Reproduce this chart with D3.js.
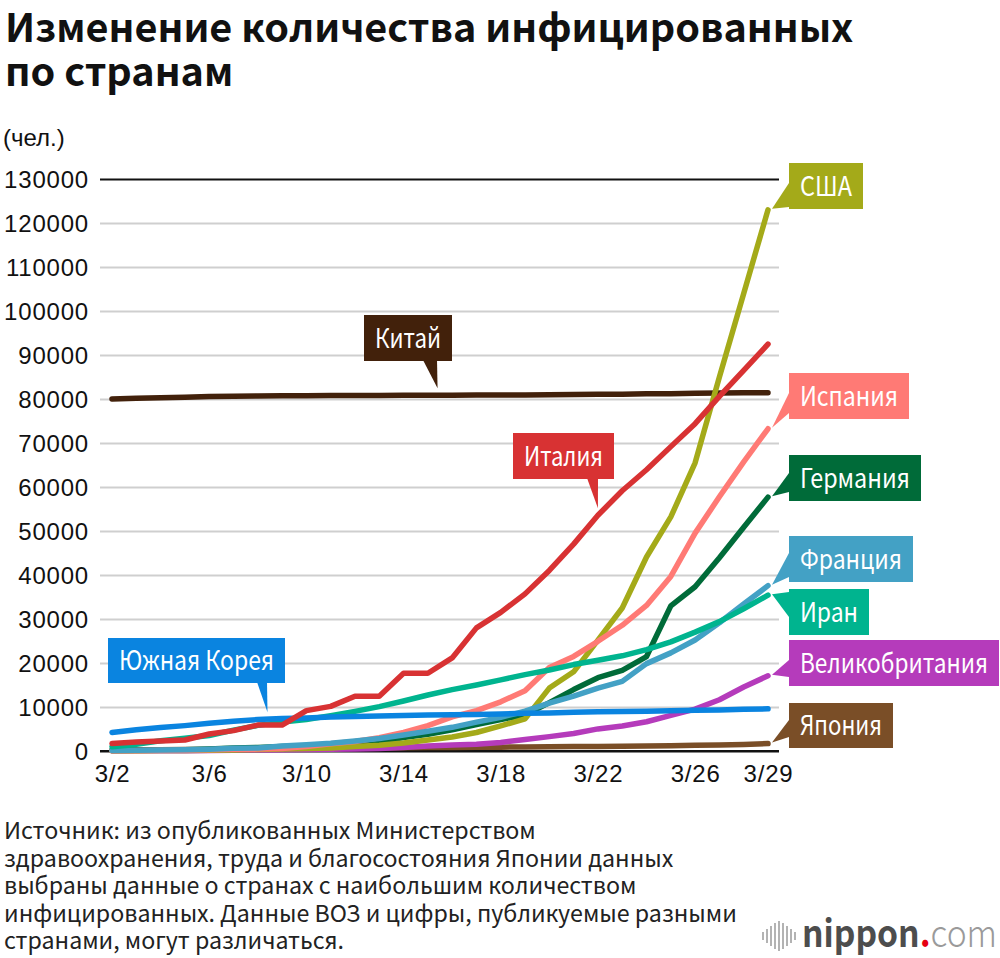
<!DOCTYPE html>
<html>
<head>
<meta charset="utf-8">
<script src="https://cdn.jsdelivr.net/npm/d3@7"></script>
<style>
body { margin: 0; background: #fff; }
svg { display: block; }
</style>
</head>
<body>
<div id="chart"></div>
<script>
var width = 1000
var height = 958

// dates 3/2 .. 3/29
var dates = d3.range(2, 30).map(function(d){ return "3/" + d })
var xTicks = ["3/2", "3/6", "3/10", "3/14", "3/18", "3/22", "3/26", "3/29"]
var yTicks = d3.range(0, 130001, 10000)

// infected, persons
var china   = [80026, 80151, 80270, 80409, 80552, 80651, 80695, 80735, 80754, 80778, 80793, 80813, 80824, 80844, 80860, 80881, 80894, 80928, 80967, 81008, 81054, 81093, 81171, 81218, 81285, 81340, 81394, 81439]
var italy   = [1689, 2036, 2263, 2502, 3858, 4636, 5883, 5883, 9172, 10149, 12462, 12462, 17660, 17660, 21157, 27980, 31506, 35713, 41035, 47021, 53578, 59138, 63927, 69176, 74386, 80589, 86498, 92472]
var usa     = [60, 80, 100, 120, 160, 220, 320, 430, 550, 700, 1000, 1300, 1800, 2500, 3200, 4200, 5700, 7300, 14300, 18000, 25200, 32500, 44100, 53200, 65500, 85000, 104000, 123000]
var spain   = [45, 114, 151, 198, 257, 374, 430, 589, 1024, 1639, 2140, 3004, 4231, 5753, 7753, 9191, 11178, 13716, 19000, 21500, 24926, 28572, 33089, 39673, 49515, 57786, 65719, 73235]
var germany = [129, 157, 196, 262, 482, 670, 799, 1040, 1176, 1457, 1908, 2078, 3062, 3795, 4838, 6012, 7156, 8198, 10999, 13957, 16662, 18323, 21463, 32986, 37323, 43938, 50871, 57695]
var france  = [130, 191, 212, 282, 420, 613, 706, 1116, 1402, 1774, 2269, 2860, 3640, 4469, 5380, 6573, 7652, 9043, 10871, 12475, 14296, 15821, 19856, 22302, 25233, 29155, 33402, 37575]
var iran    = [978, 1501, 2336, 2922, 3513, 4747, 5823, 6566, 7161, 8042, 9000, 10075, 11364, 12729, 13938, 14991, 16169, 17361, 18407, 19644, 20610, 21638, 23049, 24811, 27017, 29406, 32332, 35408]
var uk      = [36, 40, 51, 85, 115, 163, 206, 273, 321, 373, 456, 590, 798, 1140, 1372, 1543, 1950, 2626, 3269, 3983, 5018, 5683, 6650, 8077, 9529, 11658, 14543, 17089]
var korea   = [4212, 4812, 5328, 5766, 6284, 6767, 7134, 7382, 7513, 7755, 7869, 7979, 8086, 8162, 8236, 8320, 8413, 8565, 8652, 8799, 8897, 8961, 9037, 9137, 9241, 9332, 9478, 9583]
var japan   = [254, 268, 284, 317, 349, 408, 455, 488, 514, 568, 620, 675, 716, 780, 814, 829, 873, 914, 950, 1007, 1046, 1089, 1128, 1193, 1291, 1387, 1499, 1693]

// drawing order, bottom first
var series = [
    {name: "Китай", values: china, color: "#42210b"},
    {name: "Япония", values: japan, color: "#7a4e27"},
    {name: "Великобритания", values: uk, color: "#b53bbb"},
    {name: "Германия", values: germany, color: "#006b39"},
    {name: "США", values: usa, color: "#a4aa19"},
    {name: "Испания", values: spain, color: "#ff7a75"},
    {name: "Франция", values: france, color: "#43a1c5"},
    {name: "Иран", values: iran, color: "#00b48f"},
    {name: "Южная Корея", values: korea, color: "#0a84e0"},
    {name: "Италия", values: italy, color: "#d83233"}
]

// label boxes: right side ones point to the last value, the others to a date index
var labels = [
    {name: "США", box: [789, 163, 74, 46], base: [183, 207]},
    {name: "Испания", box: [789, 373, 120, 46], base: [393, 413]},
    {name: "Германия", box: [789, 455, 132, 46], base: [473, 492]},
    {name: "Франция", box: [789, 536, 124, 46], base: [553, 577]},
    {name: "Иран", box: [789, 589, 80, 46], base: [592, 617]},
    {name: "Великобритания", box: [789, 640, 210, 46], base: [660, 677]},
    {name: "Япония", box: [789, 703, 104, 45], base: [720, 737]},
    {name: "Китай", box: [364, 315, 88, 46], at: 13.4, foot: [423, 437]},
    {name: "Италия", box: [513, 433, 101, 46], at: 20, foot: [587, 598]},
    {name: "Южная Корея", box: [108, 638, 177, 45], at: 6.4, foot: [257, 267]}
]

var x = d3.scaleLinear().domain([0, dates.length - 1]).range([112, 768])
var y = d3.scaleLinear().domain([0, 130000]).range([751, 179])

var svg = d3.select("#chart").append("svg").attr("width", width).attr("height", height)

// title
var title = svg.append("text")
    .style("font-family", "'Noto Sans CJK JP', 'Noto Sans', sans-serif")
    .style("font-weight", "bold")
    .style("font-size", "39.6px")
    .style("fill", "#111")
title.append("tspan").attr("x", 5).attr("y", 42).text("Изменение количества инфицированных")
title.append("tspan").attr("x", 5).attr("y", 86).text("по странам")

svg.append("text")
    .attr("x", 3).attr("y", 146)
    .style("font-family", "'Liberation Sans', Arial, sans-serif")
    .style("font-size", "24px")
    .style("fill", "#111")
    .text("(чел.)")

// y axis with grid lines
var yAxis = svg.append("g")
    .attr("transform", "translate(100,0)")
    .call(d3.axisLeft(y).tickValues(yTicks).tickSize(-679).tickPadding(11).tickFormat(d3.format("d")))
yAxis.select(".domain").remove()
yAxis.selectAll("line")
    .attr("stroke", function(d){ return (d === 0 || d === 130000) ? "#111" : "#cfcfcf" })
    .attr("stroke-width", 2)
yAxis.selectAll("text")
    .attr("dy", "0.36em")
    .style("font-family", "'Liberation Sans', Arial, sans-serif")
    .style("font-size", "24px")
    .style("letter-spacing", "0.8px")
    .style("fill", "#111")

// x axis labels
var xAxis = svg.append("g")
    .attr("transform", "translate(0,751)")
    .call(d3.axisBottom(x)
        .tickValues(xTicks.map(function(t){ return dates.indexOf(t) }))
        .tickFormat(function(i){ return dates[i] })
        .tickSize(0).tickPadding(14))
xAxis.select(".domain").remove()
xAxis.selectAll("text")
    .attr("dy", "0.71em")
    .style("font-family", "'Liberation Sans', Arial, sans-serif")
    .style("font-size", "24px")
    .style("letter-spacing", "0.8px")
    .style("fill", "#111")

// the zero line sits on top of the grid again
svg.append("line")
    .attr("x1", 100).attr("x2", 779)
    .attr("y1", y(0)).attr("y2", y(0))
    .attr("stroke", "#111").attr("stroke-width", 2)

var line = d3.line()
    .x(function(d, i){ return x(i) })
    .y(function(d){ return y(d) })

svg.append("g").selectAll("path")
    .data(series)
    .enter()
    .append("path")
    .attr("d", function(d){ return line(d.values) })
    .attr("fill", "none")
    .attr("stroke", function(d){ return d.color })
    .attr("stroke-width", 5.5)
    .attr("stroke-linecap", "round")
    .attr("stroke-linejoin", "round")

function colorOf(name){
    return series.filter(function(s){ return s.name === name })[0].color
}
function valueAt(name, t){
    var v = series.filter(function(s){ return s.name === name })[0].values
    var i = Math.floor(t), f = t - i
    if (i >= v.length - 1) return v[v.length - 1]
    return v[i] + (v[i + 1] - v[i]) * f
}

var lab = svg.append("g").selectAll("g")
    .data(labels)
    .enter()
    .append("g")

lab.append("path")
    .attr("d", function(d){
        var bx = d.box[0], by = d.box[1], bh = d.box[3]
        if (d.at === undefined) {
            var last = series.filter(function(s){ return s.name === d.name })[0].values
            var tx = x(last.length - 1) + 4, ty = y(last[last.length - 1]) - 1
            return "M" + bx + "," + d.base[0] + "L" + tx + "," + ty + "L" + bx + "," + d.base[1] + "Z"
        }
        var px = x(d.at), py = y(valueAt(d.name, d.at)) - 7
        return "M" + d.foot[0] + "," + (by + bh - 1) + "L" + px + "," + py + "L" + d.foot[1] + "," + (by + bh - 1) + "Z"
    })
    .attr("fill", function(d){ return colorOf(d.name) })

lab.append("rect")
    .attr("x", function(d){ return d.box[0] })
    .attr("y", function(d){ return d.box[1] })
    .attr("width", function(d){ return d.box[2] })
    .attr("height", function(d){ return d.box[3] })
    .attr("fill", function(d){ return colorOf(d.name) })

lab.append("text")
    .attr("x", function(d){ return d.box[0] + 11 })
    .attr("y", function(d){ return d.box[1] + d.box[3] / 2 + 9.5 })
    .attr("textLength", function(d){ return d.box[2] - 22 })
    .attr("lengthAdjust", "spacingAndGlyphs")
    .style("font-family", "'Noto Sans CJK JP', 'Noto Sans', sans-serif")
    .style("font-size", "26.5px")
    .style("fill", "#fff")
    .text(function(d){ return d.name })

// source note
var note = [
    "Источник: из опубликованных Министерством",
    "здравоохранения, труда и благосостояния Японии данных",
    "выбраны данные о странах с наибольшим количеством",
    "инфицированных. Данные ВОЗ и цифры, публикуемые разными",
    "странами, могут различаться."
]
svg.append("g").selectAll("text")
    .data(note)
    .enter()
    .append("text")
    .attr("x", 4)
    .attr("y", function(d, i){ return 839 + i * 27.6 })
    .style("font-family", "'Noto Sans CJK JP', 'Noto Sans', sans-serif")
    .style("font-size", "23.2px")
    .style("fill", "#222")
    .text(function(d){ return d })

// nippon.com logo
var logo = svg.append("g")
var bars = [8, 14, 20, 26, 30, 26, 20, 14, 8]
logo.selectAll("rect")
    .data(bars)
    .enter()
    .append("rect")
    .attr("x", function(d, i){ return 762 + i * 4 })
    .attr("y", function(d){ return 936 - d / 2 })
    .attr("width", 2)
    .attr("height", function(d){ return d })
    .attr("fill", "#b3b3b3")
var logoText = logo.append("text")
    .attr("x", 802).attr("y", 947)
    .attr("textLength", 195)
    .attr("lengthAdjust", "spacingAndGlyphs")
    .style("font-family", "'Noto Sans CJK JP', 'Noto Sans', sans-serif")
    .style("font-size", "38px")
logoText.append("tspan").style("fill", "#4d4d4d").style("font-weight", "bold").text("nippon")
logoText.append("tspan").style("fill", "#e60012").style("font-weight", "bold").text(".")
logoText.append("tspan").style("fill", "#9a9a9a").style("font-weight", "300").text("com")
</script>
</body>
</html>
